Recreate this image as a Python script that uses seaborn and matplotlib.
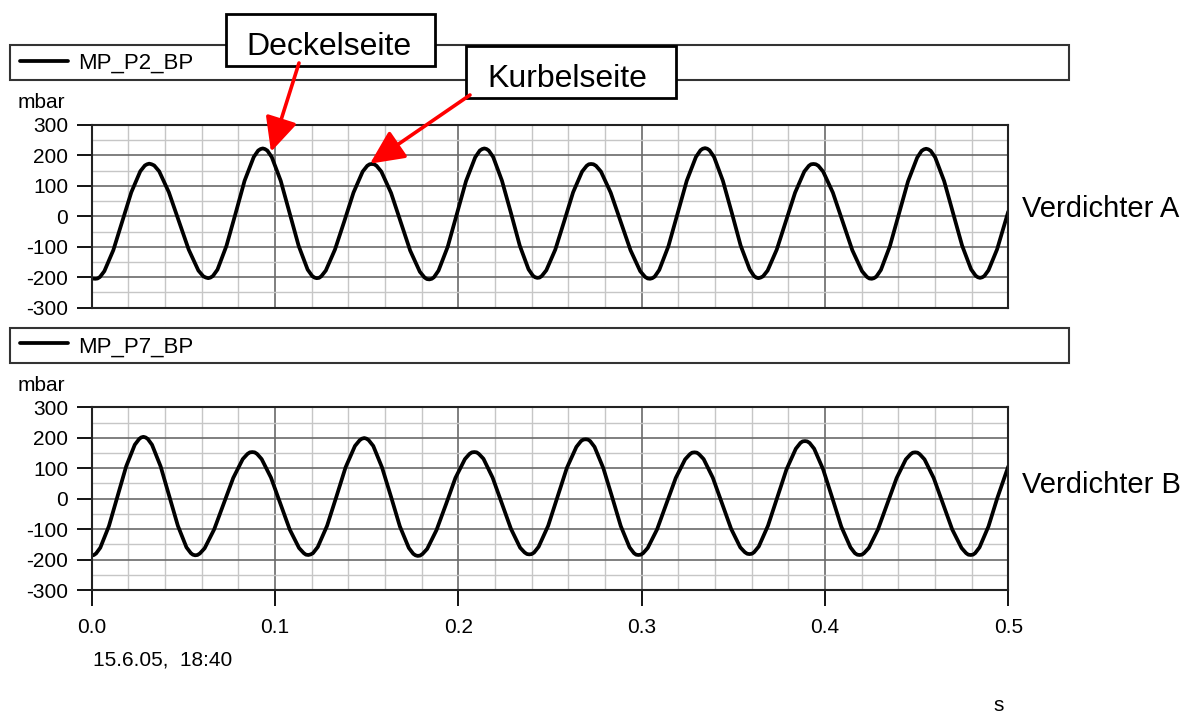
import numpy as np
import pandas as pd
import matplotlib
matplotlib.use("Agg")
import matplotlib.pyplot as plt
import seaborn as sns
from matplotlib.patches import Rectangle
from matplotlib.lines import Line2D
from matplotlib.ticker import MultipleLocator

# ---------------- data ----------------
t_a = [0.0, 0.002,
       0.0032, 0.0045, 0.0069, 0.0118, 0.0167, 0.0216, 0.0265, 0.0290, 0.0302, 0.0314,
       0.0327, 0.0341, 0.0368, 0.0421, 0.0475, 0.0529, 0.0582, 0.0609, 0.0623, 0.0636,
       0.0648, 0.0661, 0.0686, 0.0735, 0.0785, 0.0834, 0.0884, 0.0908, 0.0921, 0.0933,
       0.0945, 0.0958, 0.0982, 0.1031, 0.1080, 0.1129, 0.1178, 0.1203, 0.1215, 0.1227,
       0.1240, 0.1252, 0.1277, 0.1327, 0.1378, 0.1428, 0.1478, 0.1503, 0.1516, 0.1528,
       0.1541, 0.1554, 0.1580, 0.1633, 0.1685, 0.1737, 0.1790, 0.1816, 0.1829, 0.1842,
       0.1855, 0.1867, 0.1892, 0.1942, 0.1992, 0.2042, 0.2092, 0.2117, 0.2130, 0.2142,
       0.2154, 0.2166, 0.2190, 0.2238, 0.2287, 0.2335, 0.2383, 0.2407, 0.2419, 0.2431,
       0.2443, 0.2455, 0.2480, 0.2529, 0.2578, 0.2626, 0.2675, 0.2700, 0.2712, 0.2724,
       0.2737, 0.2751, 0.2778, 0.2831, 0.2885, 0.2939, 0.2992, 0.3019, 0.3033, 0.3046,
       0.3058, 0.3071, 0.3096, 0.3146, 0.3196, 0.3246, 0.3296, 0.3321, 0.3333, 0.3346,
       0.3358, 0.3370, 0.3395, 0.3443, 0.3492, 0.3540, 0.3589, 0.3613, 0.3625, 0.3637,
       0.3649, 0.3662, 0.3687, 0.3737, 0.3787, 0.3837, 0.3887, 0.3912, 0.3924, 0.3937,
       0.3950, 0.3964, 0.3990, 0.4043, 0.4096, 0.4149, 0.4202, 0.4229, 0.4242, 0.4255,
       0.4267, 0.4280, 0.4305, 0.4354, 0.4404, 0.4453, 0.4503, 0.4527, 0.4540, 0.4552,
       0.4564, 0.4577, 0.4601, 0.4650, 0.4699, 0.4748, 0.4797, 0.4822, 0.4834, 0.4846,
       0.4858, 0.4869, 0.4892, 0.4939, 0.4985, 0.5000]
p_a = [-204, -205,
       -204, -199, -180, -111, -16, 79, 148, 167, 171, 173,
       171, 167, 148, 79, -15, -109, -178, -197, -201, -203,
       -201, -196, -175, -97, 10, 117, 195, 216, 221, 223,
       221, 216, 195, 117, 10, -97, -175, -196, -201, -203,
       -202, -197, -178, -109, -16, 78, 147, 166, 171, 172,
       171, 166, 147, 77, -18, -112, -182, -201, -206, -207,
       -205, -200, -178, -100, 8, 116, 194, 216, 221, 223,
       221, 216, 195, 117, 11, -96, -174, -195, -200, -202,
       -201, -196, -177, -109, -15, 79, 147, 166, 171, 172,
       171, 166, 147, 78, -17, -111, -180, -199, -204, -205,
       -203, -198, -176, -98, 10, 117, 195, 217, 222, 224,
       222, 217, 195, 117, 11, -96, -174, -196, -201, -203,
       -201, -197, -178, -109, -16, 78, 147, 166, 171, 172,
       171, 166, 147, 78, -17, -111, -180, -199, -204, -205,
       -203, -198, -176, -98, 9, 115, 193, 215, 220, 222,
       220, 215, 194, 116, 10, -96, -174, -195, -200, -202,
       -200, -196, -177, -108, -15, 16]

t_b = [0.0,
       0.0012, 0.0024, 0.0047, 0.0094, 0.0141, 0.0188, 0.0235, 0.0259, 0.0270, 0.0282,
       0.0294, 0.0306, 0.0329, 0.0376, 0.0423, 0.0470, 0.0517, 0.0541, 0.0552, 0.0564,
       0.0577, 0.0590, 0.0616, 0.0668, 0.0720, 0.0772, 0.0824, 0.0850, 0.0863, 0.0876,
       0.0889, 0.0902, 0.0927, 0.0978, 0.1029, 0.1080, 0.1131, 0.1157, 0.1169, 0.1182,
       0.1195, 0.1207, 0.1233, 0.1284, 0.1335, 0.1385, 0.1436, 0.1462, 0.1474, 0.1487,
       0.1499, 0.1511, 0.1536, 0.1584, 0.1633, 0.1681, 0.1730, 0.1754, 0.1766, 0.1778,
       0.1791, 0.1804, 0.1830, 0.1881, 0.1933, 0.1984, 0.2036, 0.2061, 0.2074, 0.2087,
       0.2100, 0.2112, 0.2137, 0.2187, 0.2237, 0.2287, 0.2337, 0.2362, 0.2375, 0.2387,
       0.2400, 0.2413, 0.2438, 0.2490, 0.2541, 0.2592, 0.2644, 0.2669, 0.2682, 0.2695,
       0.2707, 0.2719, 0.2743, 0.2791, 0.2839, 0.2886, 0.2934, 0.2958, 0.2970, 0.2982,
       0.2995, 0.3008, 0.3033, 0.3084, 0.3135, 0.3186, 0.3237, 0.3263, 0.3275, 0.3288,
       0.3301, 0.3313, 0.3338, 0.3388, 0.3438, 0.3488, 0.3538, 0.3563, 0.3576, 0.3588,
       0.3601, 0.3613, 0.3639, 0.3689, 0.3740, 0.3790, 0.3841, 0.3866, 0.3878, 0.3891,
       0.3903, 0.3916, 0.3941, 0.3990, 0.4040, 0.4089, 0.4139, 0.4163, 0.4176, 0.4188,
       0.4201, 0.4213, 0.4239, 0.4289, 0.4340, 0.4391, 0.4441, 0.4467, 0.4479, 0.4492,
       0.4505, 0.4517, 0.4543, 0.4593, 0.4644, 0.4694, 0.4745, 0.4770, 0.4782, 0.4795,
       0.4807, 0.4819, 0.4843, 0.4892, 0.4940, 0.5000]
p_b = [-187,
       -185, -180, -161, -90, 8, 106, 177, 196, 201, 203,
       201, 196, 177, 106, 8, -89, -160, -179, -184, -186,
       -185, -180, -163, -101, -17, 68, 130, 147, 152, 153,
       152, 147, 130, 69, -16, -101, -162, -179, -184, -185,
       -183, -179, -159, -89, 7, 103, 173, 192, 197, 199,
       197, 192, 173, 102, 6, -91, -162, -181, -186, -188,
       -187, -182, -165, -103, -18, 68, 130, 147, 152, 153,
       152, 147, 131, 69, -15, -99, -161, -177, -182, -183,
       -182, -177, -158, -89, 6, 101, 170, 189, 194, 195,
       194, 189, 170, 100, 5, -90, -160, -179, -184, -185,
       -184, -179, -162, -101, -17, 68, 129, 146, 151, 152,
       151, 146, 130, 69, -15, -99, -160, -176, -181, -182,
       -181, -176, -157, -89, 4, 96, 164, 183, 188, 189,
       188, 183, 164, 96, 2, -92, -160, -179, -184, -185,
       -184, -179, -162, -101, -17, 68, 129, 146, 151, 152,
       151, 146, 129, 68, -17, -101, -162, -179, -184, -185,
       -184, -179, -160, -91, 2, 106]

series_names = ["MP_P2_BP", "MP_P7_BP"]
panel_labels = ["Verdichter A", "Verdichter B"]
x_ticks = [0.0, 0.1, 0.2, 0.3, 0.4, 0.5]
y_ticks = [-300, -200, -100, 0, 100, 200, 300]
annotation_texts = ["Deckelseite", "Kurbelseite"]
annotation_points = [(0.0978, 212), (0.1518, 173)]
y_unit = "mbar"
x_unit = "s"
timestamp = "15.6.05,  18:40"

# ---------------- style ----------------
sns.set_style("white")
plt.rcParams["font.family"] = ["Liberation Sans", "DejaVu Sans"]
plt.rcParams["axes.unicode_minus"] = False
for key in ["text.color", "axes.labelcolor", "xtick.color", "ytick.color"]:
    plt.rcParams[key] = "black"

W, H = 1196, 715
fig = plt.figure(figsize=(W / 100, H / 100), dpi=100)
fig.patch.set_facecolor("white")


def fx(px):
    return px / W


def fy(py):
    return 1 - py / H


left, right = 91.7, 1008.3
panels = [(125.0, 307.7), (407.3, 590.0)]
axes = []
for (top, bot) in panels:
    ax = fig.add_axes([fx(left), fy(bot), (right - left) / W, (bot - top) / H])
    axes.append(ax)
ax_top, ax_bot = axes

frames = [pd.DataFrame({"t": t_a, "p": p_a}), pd.DataFrame({"t": t_b, "p": p_b})]

for ax, df in zip(axes, frames):
    sns.lineplot(data=df, x="t", y="p", ax=ax, color="black", linewidth=2.7,
                 estimator=None, errorbar=None, sort=False, legend=False)
    for ln in ax.get_lines():
        ln.set_solid_joinstyle("round")
        ln.set_solid_capstyle("round")
    ax.set_xlim(0, 0.5)
    ax.set_ylim(-300, 300)
    ax.set_xticks(x_ticks)
    ax.set_yticks(y_ticks)
    ax.set_yticklabels([str(v) for v in y_ticks])
    ax.xaxis.set_minor_locator(MultipleLocator(0.02))
    ax.yaxis.set_minor_locator(MultipleLocator(50))
    ax.grid(True, which="minor", color="#c6c6c6", linewidth=1.0)
    ax.grid(True, which="major", color="#6a6a6a", linewidth=1.2)
    ax.set_axisbelow(True)
    ax.tick_params(axis="y", which="major", left=True, length=11, width=1.3,
                   direction="out", pad=6, labelsize=15, color="black",
                   labelcolor="black")
    ax.tick_params(which="minor", length=0)
    ax.set_xlabel("")
    ax.set_ylabel("")
    for side, sp in ax.spines.items():
        sp.set_visible(True)
        sp.set_color("#222222")
        sp.set_linewidth(1.5)

ax_top.tick_params(axis="x", which="major", bottom=False, labelbottom=False)
ax_bot.tick_params(axis="x", which="major", bottom=True, length=11.5, width=1.3,
                   direction="out", pad=9, labelsize=15, color="black",
                   labelcolor="black")
ax_bot.set_xticklabels([f"{v:.1f}" for v in x_ticks])

# ---------------- legend boxes ----------------
legend_rows = [(45, 80, 60.5, 69.0), (328, 363, 343.3, 352.7)]
for (y0, y1, yl, yb), name in zip(legend_rows, series_names):
    fig.add_artist(Rectangle((fx(10), fy(y1)), (1069 - 10) / W, (y1 - y0) / H,
                             transform=fig.transFigure, facecolor="white",
                             edgecolor="#333333", linewidth=1.5, zorder=1))
    fig.add_artist(Line2D([fx(20), fx(68)], [fy(yl), fy(yl)], color="black",
                          linewidth=2.7, transform=fig.transFigure, zorder=2))
    fig.text(fx(78), fy(yb), name, fontsize=16, ha="left", va="baseline", zorder=3)

# unit labels
fig.text(fx(18), fy(108), y_unit, fontsize=15, ha="left", va="baseline")
fig.text(fx(18), fy(390.7), y_unit, fontsize=15, ha="left", va="baseline")
fig.text(fx(93), fy(665), timestamp, fontsize=15, ha="left", va="baseline")
fig.text(fx(993), fy(711), x_unit, fontsize=15, ha="left", va="baseline")

# panel labels
fig.text(fx(1022), fy(217), panel_labels[0], fontsize=21, ha="left", va="baseline")
fig.text(fx(1022), fy(493), panel_labels[1], fontsize=21, ha="left", va="baseline")

# ---------------- annotation boxes ----------------
boxes = [(226, 14, 435, 66, 329, 55), (466, 46, 676, 98, 567, 87)]
for (bx0, by0, bx1, by1, tx, tb), txt in zip(boxes, annotation_texts):
    fig.add_artist(Rectangle((fx(bx0), fy(by1)), (bx1 - bx0) / W, (by1 - by0) / H,
                             transform=fig.transFigure, facecolor="white",
                             edgecolor="black", linewidth=2.0, zorder=4))
    fig.text(fx(tx), fy(tb), txt, fontsize=23, ha="center", va="baseline", zorder=5)

# arrows (tips at the curve peaks)
ax_top.set_zorder(10)
starts = [(299, H - 63), (470, H - 95)]
for (px, py), start in zip(annotation_points, starts):
    ax_top.annotate("", xy=(px, py), xycoords="data", xytext=start,
                    textcoords="figure pixels",
                    arrowprops=dict(arrowstyle="-|>,head_length=0.8,head_width=0.38",
                                    mutation_scale=26, color="#ff0000", lw=2.6,
                                    shrinkA=0, shrinkB=0),
                    annotation_clip=False)

fig.savefig("out.png", dpi=100)
